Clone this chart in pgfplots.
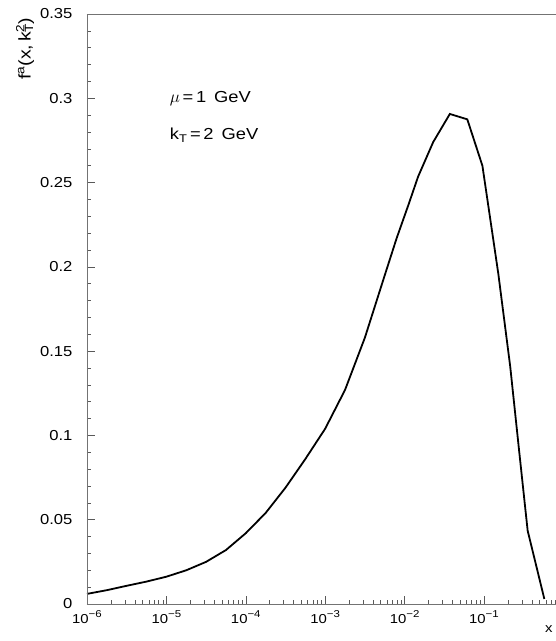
\documentclass[border=0pt]{standalone}
\usepackage{fontspec}
\setmainfont{Liberation Sans}[FakeStretch=1.15]
\usepackage{pgfplots}
\pgfplotsset{compat=1.18}
\newcommand{\ex}[1]{10\raisebox{0.5em}{\fontsize{10}{12}\selectfont #1}}
\begin{document}
\begin{tikzpicture}
\begin{axis}[
  scale only axis,
  width=469bp, height=590bp,
  xmode=log,
  xmin=1e-6, xmax=0.807,
  ymin=0, ymax=0.35,
  clip=false,
  axis line style={draw=none},
  tick pos=left,
  tick align=inside,
  major tick length=8bp,
  minor tick length=4bp,
  every tick/.style={black!65, line width=0.5pt},
  xtick={1e-6,1e-5,1e-4,1e-3,1e-2,1e-1},
  xticklabels={\ex{−6},\ex{−5},\ex{−4},\ex{−3},\ex{−2},\ex{−1}},
  minor xtick={2e-6,3e-6,4e-6,5e-6,6e-6,7e-6,8e-6,9e-6,
               2e-5,3e-5,4e-5,5e-5,6e-5,7e-5,8e-5,9e-5,
               2e-4,3e-4,4e-4,5e-4,6e-4,7e-4,8e-4,9e-4,
               2e-3,3e-3,4e-3,5e-3,6e-3,7e-3,8e-3,9e-3,
               2e-2,3e-2,4e-2,5e-2,6e-2,7e-2,8e-2,9e-2,
               0.2,0.3,0.4,0.5,0.6,0.7,0.8},
  ytick={0,0.05,0.1,0.15,0.2,0.25,0.3,0.35},
  yticklabels={0,0.05,0.1,0.15,0.2,0.25,0.3,0.35},
  minor ytick={0.01,0.02,0.03,0.04,0.06,0.07,0.08,0.09,0.11,0.12,0.13,0.14,0.16,0.17,0.18,0.19,0.21,0.22,0.23,0.24,0.26,0.27,0.28,0.29,0.31,0.32,0.33,0.34},
  xticklabel style={font=\fontsize{13}{15}\selectfont, yshift=-3bp},
  yticklabel style={font=\fontsize{14.5}{16}\selectfont, xshift=-11bp},
]
\addplot[black, line width=1.8pt] table {
x y
1e-6      0.0060
1.778e-6  0.0082
3.162e-6  0.0108
5.623e-6  0.0133
1e-5      0.0162
1.778e-5  0.0200
3.162e-5  0.0250
5.623e-5  0.0320
1e-4      0.0420
1.778e-4  0.0540
3.162e-4  0.0690
5.623e-4  0.0860
1e-3      0.1040
1.778e-3  0.1270
3.162e-3  0.1580
5.623e-3  0.1950
7.943e-3  0.2170
1.122e-2  0.2370
1.479e-2  0.2535
2.291e-2  0.2740
3.715e-2  0.2907
6.166e-2  0.2875
9.550e-2  0.2600
0.1514    0.1960
0.2138    0.1410
0.2754    0.0920
0.3548    0.0435
0.5754    0.0030
};
\draw[black!55, line width=0.5pt] (rel axis cs:0,0) -- (rel axis cs:0,1) -- (rel axis cs:1,1);
\draw[black!55, line width=0.5pt] (rel axis cs:0,0) -- (rel axis cs:1,0);
\node[anchor=west, font=\fontsize{16}{18}\selectfont] at (axis cs:1e-5,0.300) {\(\mu\)\,=\,1\enspace GeV};
\node[anchor=west, font=\fontsize{16}{18}\selectfont] at (axis cs:1e-5,0.278) {k\textsubscript{T}\,=\,2\enspace GeV};
\node[anchor=north east, yshift=-18bp, font=\fontsize{13}{15}\selectfont] at (rel axis cs:1,0) {x};
\coordinate (BL) at (rel axis cs:0,0);
\coordinate (TR) at (rel axis cs:1,1);
\coordinate (TL) at (rel axis cs:0,1);
\end{axis}
\node[anchor=east, rotate=90, font=\fontsize{17}{19}\selectfont] at ([xshift=-62bp]TL) {f\textsuperscript{a}(x,\,k\rlap{\textsubscript{T}}\textsuperscript{2})};
\pgfresetboundingbox
\path[use as bounding box] ([shift={(-87bp,-37bp)}]BL) rectangle ([shift={(0bp,14bp)}]TR);
\end{tikzpicture}
\end{document}
